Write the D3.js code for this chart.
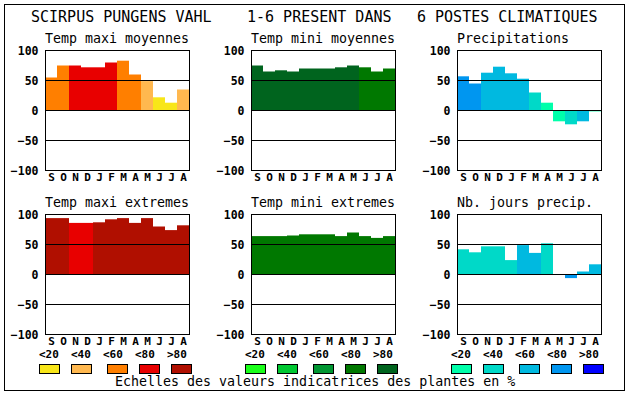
<!DOCTYPE html>
<html>
<head>
<meta charset="utf-8">
<script src="https://cdn.jsdelivr.net/npm/d3@7"></script>
<style>
  body { margin: 0; background: #fff; }
  text { font-family: "DejaVu Sans Mono", "Liberation Mono", monospace; }
</style>
</head>
<body>
<div id="chart"></div>
<script>
// months of the hydrological year, Sept -> Aug
var months = ["S", "O", "N", "D", "J", "F", "M", "A", "M", "J", "J", "A"];
var yTicks = [100, 50, 0, -50, -100];
var classLabels = ["<20", "<40", "<60", "<80", ">80"];

// values per panel (percent) and colour class index (0..4) per month
var tempMaxiMoy = [55, 75, 75, 72, 72, 80, 83, 60, 49, 22, 13, 35];
var tempMaxiMoyCls = [2, 2, 3, 3, 3, 3, 2, 2, 1, 0, 0, 1];
var tempMiniMoy = [75, 65, 67, 65, 70, 70, 70, 72, 75, 72, 65, 70];
var tempMiniMoyCls = [4, 4, 4, 4, 4, 4, 4, 4, 4, 3, 3, 3];
var precip = [57, 45, 63, 73, 62, 53, 30, 13, -18, -23, -18, -1.5];
var precipCls = [3, 3, 2, 2, 2, 2, 1, 0, 0, 1, 2, 0];
var tempMaxiExt = [94, 94, 86, 86, 87, 92, 94, 86, 94, 80, 74, 82];
var tempMaxiExtCls = [4, 4, 3, 3, 4, 4, 4, 4, 4, 4, 4, 4];
var tempMiniExt = [64, 64, 64, 65, 67, 67, 67, 64, 70, 64, 61, 64];
var tempMiniExtCls = [3, 3, 3, 3, 3, 3, 3, 3, 3, 3, 3, 3];
var nbJours = [42, 37, 47, 47, 24, 49, 36, 52, 0, -6, 5, 17];
var nbJoursCls = [1, 1, 1, 1, 1, 2, 2, 1, 0, 3, 2, 2];

// colour scales, one per column
var redScale = ["#f8e619", "#ffb84f", "#ff7f00", "#e80000", "#b00f00"];
var greenScale = ["#1aff1a", "#00c832", "#009632", "#007800", "#00641e"];
var blueScale = ["#00ffaa", "#00d9c8", "#00b9e0", "#0096f0", "#0000ff"];

var titles = ["SCIRPUS PUNGENS VAHL", "1-6 PRESENT DANS", "6 POSTES CLIMATIQUES"];
var titleX = [31, 247, 417];

var width = 630, height = 394;
var plotW = 144, plotH = 120;
var colLeft = [45, 251, 457];
var rowTop = [50, 214];

var svg = d3.select("#chart")
    .append("svg")
    .attr("width", width)
    .attr("height", height);

// outer frame
svg.append("rect")
    .attr("x", 4.5).attr("y", 4.5)
    .attr("width", 620).attr("height", 386)
    .attr("fill", "none")
    .attr("stroke", "black");

svg.selectAll(".title")
    .data(titles)
    .enter()
    .append("text")
    .attr("x", function(d, i) { return titleX[i]; })
    .attr("y", 22)
    .style("font-size", "15px")
    .text(function(d) { return d; });

var x = d3.scaleBand()
    .domain(d3.range(12))
    .range([0, plotW]);

var y = d3.scaleLinear()
    .domain([-100, 100])
    .range([plotH, 0]);

function drawPanel(left, top, label, values, cls, colors) {
    var g = svg.append("g")
        .attr("transform", "translate(" + (left + 0.5) + "," + (top + 0.5) + ")");

    g.append("text")
        .attr("x", -0.5)
        .attr("y", -7.5)
        .style("font-size", "13.3px")
        .text(label);

    g.selectAll(".bar")
        .data(values)
        .enter()
        .append("rect")
        .attr("x", function(d, i) { return x(i) - 0.5; })
        .attr("y", function(d) { return Math.min(y(d), y(0)); })
        .attr("width", x.bandwidth())
        .attr("height", function(d) { return Math.abs(y(d) - y(0)); })
        .attr("fill", function(d, i) { return colors[cls[i]]; });

    // grid lines on top of bars
    g.selectAll(".grid")
        .data([50, 0, -50])
        .enter()
        .append("line")
        .attr("x1", 0).attr("x2", plotW)
        .attr("y1", function(d) { return y(d); })
        .attr("y2", function(d) { return y(d); })
        .attr("stroke", "black");

    g.append("rect")
        .attr("width", plotW).attr("height", plotH)
        .attr("fill", "none")
        .attr("stroke", "black");

    var yAxis = g.append("g")
        .call(d3.axisLeft(y).tickValues(yTicks).tickSize(0).tickPadding(7));
    yAxis.select(".domain").remove();
    yAxis.selectAll("text")
        .style("font-family", "DejaVu Sans Mono")
        .style("font-size", "11.5px")
        .style("font-weight", "bold")
        .attr("dy", "0.36em")
        .attr("fill", "black");

    var xAxis = g.append("g")
        .attr("transform", "translate(0," + plotH + ")")
        .call(d3.axisBottom(x).tickSize(0).tickPadding(2.5)
            .tickFormat(function(i) { return months[i]; }));
    xAxis.select(".domain").remove();
    xAxis.selectAll("text")
        .style("font-family", "DejaVu Sans Mono")
        .style("font-size", "11px")
        .style("font-weight", "bold")
        .attr("fill", "black");
}

function drawLegend(left, colors) {
    var boxOffset = [0, 32, 68, 100, 132];
    var g = svg.append("g")
        .attr("transform", "translate(" + (left - 6) + ",0)");

    g.selectAll(".lab")
        .data(classLabels)
        .enter()
        .append("text")
        .attr("x", function(d, i) { return i * 32; })
        .attr("y", 357.5)
        .style("font-size", "11px")
        .style("font-weight", "bold")
        .text(function(d) { return d; });

    g.selectAll(".box")
        .data(colors)
        .enter()
        .append("rect")
        .attr("x", function(d, i) { return boxOffset[i] + 0.5; })
        .attr("y", 364.5)
        .attr("width", 20)
        .attr("height", 9)
        .attr("fill", function(d) { return d; })
        .attr("stroke", "black");
}

drawPanel(colLeft[0], rowTop[0], "Temp maxi moyennes", tempMaxiMoy, tempMaxiMoyCls, redScale);
drawPanel(colLeft[1], rowTop[0], "Temp mini moyennes", tempMiniMoy, tempMiniMoyCls, greenScale);
drawPanel(colLeft[2], rowTop[0], "Precipitations", precip, precipCls, blueScale);
drawPanel(colLeft[0], rowTop[1], "Temp maxi extremes", tempMaxiExt, tempMaxiExtCls, redScale);
drawPanel(colLeft[1], rowTop[1], "Temp mini extremes", tempMiniExt, tempMiniExtCls, greenScale);
drawPanel(colLeft[2], rowTop[1], "Nb. jours precip.", nbJours, nbJoursCls, blueScale);

drawLegend(colLeft[0], redScale);
drawLegend(colLeft[1], greenScale);
drawLegend(colLeft[2], blueScale);

svg.append("text")
    .attr("x", 115)
    .attr("y", 386)
    .style("font-size", "13.3px")
    .text("Echelles des valeurs indicatrices des plantes en %");
</script>
</body>
</html>
